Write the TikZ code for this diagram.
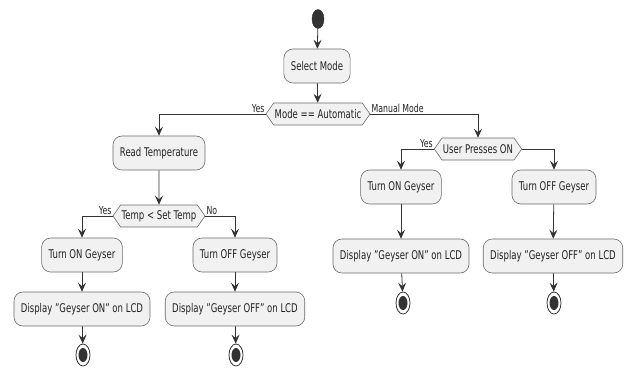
\documentclass[tikz,border=0pt]{standalone}
\usepackage{fontspec}
\setmainfont{DejaVu Sans}[FakeStretch=0.71]
\usetikzlibrary{shapes.symbols,shapes.geometric,arrows.meta}
\definecolor{boxfill}{HTML}{F1F1F1}
\definecolor{boxline}{HTML}{6A6A6A}
\definecolor{edgecol}{HTML}{333333}
\definecolor{txt}{HTML}{222222}
\begin{document}
\begin{tikzpicture}[x=1pt,y=-1pt,
  actbox/.style={draw=boxline,fill=boxfill,rounded corners=9pt,minimum height=34pt,inner xsep=7pt,inner ysep=0pt,font=\fontsize{12}{14}\selectfont,text=txt,line width=0.6pt},
  hexbox/.style={draw=boxline,fill=boxfill,signal,signal to=east and west,signal pointer angle=110,minimum height=22pt,inner xsep=1pt,inner ysep=0pt,font=\fontsize{12}{14}\selectfont,text=txt,line width=0.6pt},
  startdot/.style={ellipse,fill=edgecol,draw=edgecol,minimum width=12pt,minimum height=19pt,inner sep=0pt},
  endring/.style={ellipse,draw=edgecol,fill=white,line width=0.8pt,minimum width=14pt,minimum height=22pt,inner sep=0pt},
  enddot/.style={ellipse,fill=edgecol,minimum width=9pt,minimum height=14pt,inner sep=0pt},
  flow/.style={draw=edgecol,line width=0.8pt,-{Stealth[length=9pt,width=8pt,inset=3.5pt]}},
  lbl/.style={font=\fontsize{11}{13}\selectfont,text=txt,inner sep=1pt}
]
\useasboundingbox (0,0) rectangle (624,367);
% nodes
\node[startdot] (start) at (318,19) {};
\node[actbox] (sel) at (317,66) {Select Mode};
\node[hexbox] (d1) at (318,114) {Mode == Automatic};
\node[actbox] (rt) at (159,153) {Read Temperature};
\node[hexbox] (d2) at (159,216) {Temp < Set Temp};
\node[actbox] (on1) at (82,255) {Turn ON Geyser};
\node[actbox] (dis1) at (82,309) {Display "Geyser ON" on LCD};
\node[endring] (end1) at (83,355) {};
\node[enddot] (end1i) at (83,355) {};
\node[actbox] (off1) at (235,255) {Turn OFF Geyser};
\node[actbox] (dis2) at (235,309) {Display "Geyser OFF" on LCD};
\node[endring] (end2) at (236,355) {};
\node[enddot] (end2i) at (236,355) {};
\node[hexbox] (d3) at (478,149) {User Presses ON};
\node[actbox] (on2) at (401,187) {Turn ON Geyser};
\node[actbox] (dis3) at (401,256) {Display "Geyser ON" on LCD};
\node[endring] (end3) at (403,303) {};
\node[enddot] (end3i) at (403,303) {};
\node[actbox] (off2) at (554,187) {Turn OFF Geyser};
\node[actbox] (dis4) at (553,256) {Display "Geyser OFF" on LCD};
\node[endring] (end4) at (554,303) {};
\node[enddot] (end4i) at (554,303) {};
% connectors
\draw[flow] (start) -- (sel);
\draw[flow] (sel) -- (d1);
\draw[flow] (d1.west) -| (rt.north);
\node[lbl,anchor=south east] (l1) at (d1.west) {Yes};
\draw[flow] (d1.east) -| (d3.north);
\node[lbl,anchor=south west] (l2) at (d1.east) {Manual Mode};
\draw[flow] (rt) -- (d2);
\draw[flow] (d2.west) -| (on1.north);
\node[lbl,anchor=south east] (l3) at (d2.west) {Yes};
\draw[flow] (d2.east) -| (off1.north);
\node[lbl,anchor=south west] (l4) at (d2.east) {No};
\draw[flow] (on1) -- (dis1);
\draw[flow] (dis1) -- (end1);
\draw[flow] (off1) -- (dis2);
\draw[flow] (dis2) -- (end2);
\draw[flow] (d3.west) -| (on2.north);
\node[lbl,anchor=south east] (l5) at (d3.west) {Yes};
\draw[flow] (d3.east) -| (off2.north);
\draw[flow] (on2) -- (dis3);
\draw[flow] (dis3) -- (end3);
\draw[flow] (off2) -- (dis4);
\draw[flow] (dis4) -- (end4);
\end{tikzpicture}
\end{document}
